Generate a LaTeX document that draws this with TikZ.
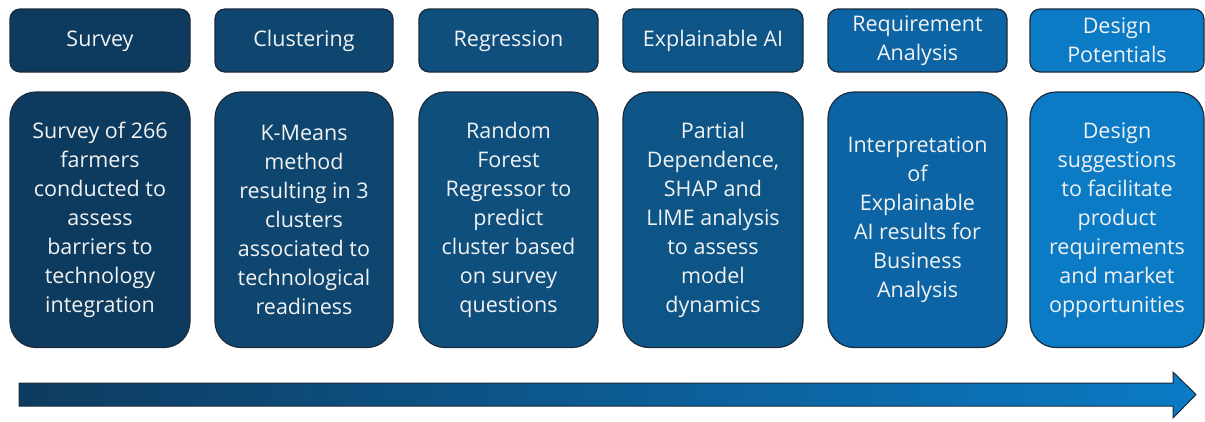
\documentclass[tikz,border=0pt]{standalone}
\usepackage{fontspec}
\setmainfont{Open Sans}

% step colours, from dark navy to bright blue
\definecolor{stepA}{HTML}{0D3B5F}
\definecolor{stepB}{HTML}{0F4670}
\definecolor{stepC}{HTML}{0F4F7E}
\definecolor{stepD}{HTML}{0D5587}
\definecolor{stepE}{HTML}{0C64A4}
\definecolor{stepF}{HTML}{0B7BC6}
\definecolor{edge}{HTML}{1B2B3B}
\definecolor{txt}{HTML}{F2F2F2}

\tikzset{
  x=1pt, y=-1pt,
  base/.style={draw=edge, line width=1.2pt, text=txt, align=center,
    inner sep=0pt, font=\fontsize{21.5}{29}\selectfont},
  head/.style={base, rounded corners=10pt, minimum height=63pt},
  body/.style={base, rounded corners=26pt, minimum height=255.5pt},
}

% #1 name, #2 colour, #3 left, #4 right, #5 title, #6 description
\newcommand{\stagebox}[6]{%
  \node[head, fill=#2, minimum width={#4-#3}] (#1-title)
    at ({(#3+#4)/2},40.5) {#5};
  \node[body, fill=#2, minimum width={#4-#3}] (#1-text)
    at ({(#3+#4)/2},219.75) {#6};
}

\begin{document}
\begin{tikzpicture}
\useasboundingbox (0,0) rectangle (1205,421);

\stagebox{survey}{stepA}{10}{190}{\strut Survey}
  {Survey of 266\\farmers\\conducted to\\assess\\barriers to\\technology\\integration}
\stagebox{cluster}{stepB}{215}{393}{\strut Clustering}
  {K-Means\\method\\resulting in 3\\clusters\\associated to\\technological\\readiness}
\stagebox{regress}{stepC}{419}{598}{\strut Regression}
  {Random\\Forest\\Regressor to\\predict\\cluster based\\on survey\\questions}
\stagebox{xai}{stepD}{623}{803}{\strut Explainable AI}
  {Partial\\Dependence,\\SHAP and\\LIME analysis\\to assess\\model\\dynamics}
\stagebox{req}{stepE}{828}{1007}{Requirement\\Analysis}
  {Interpretation\\of\\Explainable\\AI results for\\Business\\Analysis}
\stagebox{design}{stepF}{1030}{1204}{Design\\Potentials}
  {Design\\suggestions\\to facilitate\\product\\requirements\\and market\\opportunities}

% progress arrow along the bottom
\shadedraw[left color=stepA, right color=stepF, draw=edge, line width=1pt, line join=miter]
  (19,383) -- (1173,383) -- (1173,372) -- (1196,394.5) -- (1173,418)
  -- (1173,406) -- (19,406) -- cycle;
\end{tikzpicture}
\end{document}
